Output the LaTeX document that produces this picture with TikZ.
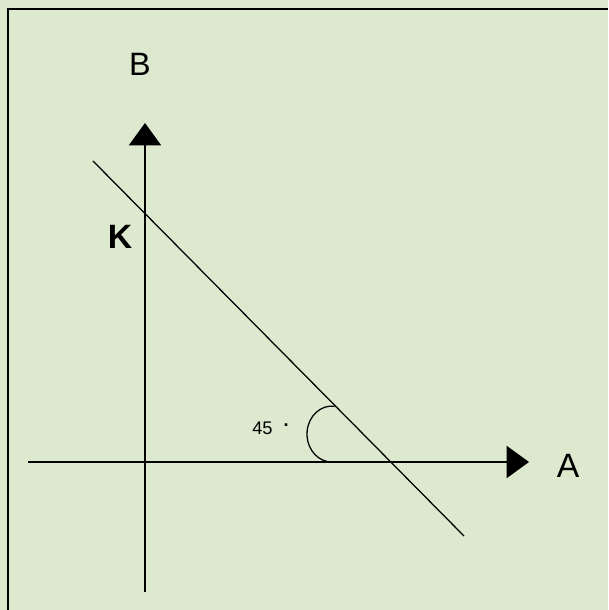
\documentclass[tikz,border=0pt]{standalone}
\usepackage{fontspec}
\setmainfont{Liberation Sans}
\usepackage{xcolor}
\usepackage{tikz}
\usetikzlibrary{arrows.meta}

\definecolor{paper}{RGB}{221,233,206}

\tikzset{
  axisline/.style={line width=1.1pt, -{Triangle[length=16pt, width=23pt]}},
  axislabel/.style={inner sep=0pt, font=\fontsize{23}{26}\selectfont}
}

\begin{document}
\begin{tikzpicture}[x=0.025cm, y=0.025cm]
\fill[paper] (0,0) rectangle (608,610);
\useasboundingbox (0,0) rectangle (608,610);
% frame of the page
\draw[line width=2pt] (8,0) -- (8,601) -- (608,601);
% axes
\coordinate (O) at (145,148);
\coordinate (Bbot) at (145,18);
\coordinate (Btop) at (145,487);
\coordinate (Aleft) at (28,148);
\coordinate (Aright) at (529,148);
\draw[axisline] (Bbot) -- (Btop);
\draw[axisline] (Aleft) -- (Aright);
\node[axislabel] (labB) at (140,545.5) {B};
\node[axislabel, font=\fontsize{24}{27}\selectfont] (labA) at (568,144.5) {A};
\node[axislabel, font=\fontsize{24}{27}\selectfont\bfseries] (labK) at (120,373) {K};
% budget line
\coordinate (s) at (93,449);
\coordinate (e) at (464,74);
\draw[line width=0.9pt] (s) -- (e);
% angle mark
\draw[line width=0.9pt] (334.6,203.8) arc[start angle=84, end angle=259, x radius=25, y radius=28];
\node[anchor=west, inner sep=0pt, font=\fontsize{13}{15}\selectfont] (ang) at (252,181.5) {45\hspace{0.6em}\raisebox{0.45em}{\textbf{.}}};
\end{tikzpicture}
\end{document}
